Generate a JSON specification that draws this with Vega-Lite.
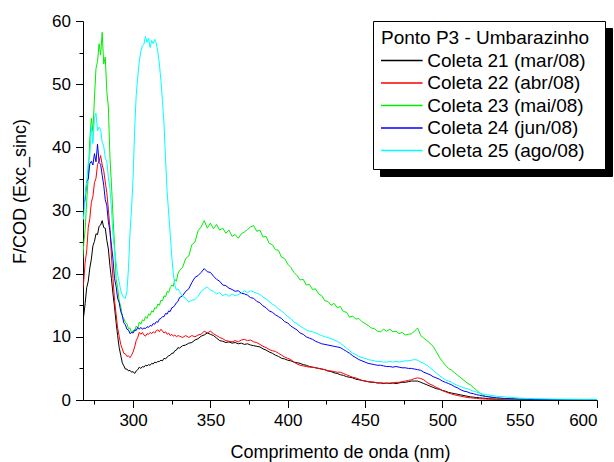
{
"$schema": "https://vega.github.io/schema/vega-lite/v6.json",
"width": 514, "height": 379,
"autosize": {"type": "none"},
"padding": {"left": 83, "top": 21, "right": 17, "bottom": 62},
"background": "white",
"data": {"values": [
{"w":267,"a":11,"b":17,"c":21,"d":33,"e":30},
{"w":268,"a":13.2,"b":18.6,"c":24.5,"d":30.5,"e":28.6},
{"w":269,"a":15.3,"b":21.8,"c":27,"d":31.8,"e":32.3},
{"w":270,"a":17.8,"b":23.6,"c":31.5,"d":34.6,"e":34.5},
{"w":271,"a":18.8,"b":27.3,"c":35.4,"d":35,"e":37.6},
{"w":272,"a":20.9,"b":28.7,"c":41.3,"d":37.4,"e":38.6},
{"w":273,"a":22.3,"b":31.3,"c":44.6,"d":37.8,"e":43.3},
{"w":274,"a":24.4,"b":32.2,"c":42.5,"d":37.2,"e":40.6},
{"w":275,"a":25.1,"b":34.4,"c":47.8,"d":39,"e":44.6},
{"w":276,"a":26.3,"b":35.1,"c":52.5,"d":37.7,"e":45.4},
{"w":277,"a":26.2,"b":37.3,"c":53.6,"d":40.5,"e":42.6},
{"w":278,"a":27.5,"b":37.8,"c":56.4,"d":37.6,"e":43.2},
{"w":279,"a":27.7,"b":38.7,"c":54.6,"d":37.3,"e":42.8},
{"w":280,"a":28.4,"b":37.2,"c":58.2,"d":35.6,"e":40.8},
{"w":281,"a":27.3,"b":36.3,"c":53.2,"d":34,"e":40.2},
{"w":282,"a":27.2,"b":34.5,"c":54.3,"d":31.7,"e":38.3},
{"w":283,"a":25.3,"b":32.8,"c":48.8,"d":30.8,"e":37.8},
{"w":284,"a":23.9,"b":30.2,"c":46.4,"d":28.2,"e":35.2},
{"w":285,"a":21.3,"b":27.3,"c":38.6,"d":26.8,"e":33.5},
{"w":286,"a":19.2,"b":22.8,"c":34.2,"d":24.5,"e":30.2},
{"w":287,"a":16.8,"b":19.2,"c":29.1,"d":22.3,"e":26.1},
{"w":288,"a":14.7,"b":15.8,"c":24.4,"d":19.2,"e":23.7},
{"w":289,"a":12.3,"b":13.6,"c":19.2,"d":18,"e":21.9},
{"w":290,"a":10.2,"b":11.4,"c":17.8,"d":16.1,"e":19.8},
{"w":291,"a":8.3,"b":10.1,"c":15.7,"d":15.4,"e":18.7},
{"w":292,"a":7.1,"b":8.8,"c":14.8,"d":14,"e":17.3},
{"w":293,"a":5.9,"b":8.1,"c":13.3,"d":13.4,"e":16.6},
{"w":294,"a":5.4,"b":7.4,"c":12.9,"d":12.2,"e":16.2},
{"w":295,"a":4.9,"b":7.3,"c":12.3,"d":11.9,"e":16.1},
{"w":296,"a":4.9,"b":6.9,"c":12.1,"d":11.2,"e":17.2},
{"w":297,"a":4.6,"b":7.0,"c":11.3,"d":11.1,"e":20.8},
{"w":298,"a":4.7,"b":6.7,"c":11.4,"d":10.5,"e":26.5},
{"w":299,"a":4.4,"b":7.1,"c":10.6,"d":10.7,"e":30.3},
{"w":300,"a":4.5,"b":7.6,"c":11.0,"d":10.6,"e":35.2},
{"w":301,"a":4.2,"b":8.4,"c":10.9,"d":11.1,"e":42.8},
{"w":302,"a":4.6,"b":9.4,"c":11.7,"d":11.0,"e":48.2},
{"w":303,"a":4.8,"b":9.9,"c":11.4,"d":11.5,"e":51.1},
{"w":304,"a":5.2,"b":10.7,"c":12.3,"d":11.2,"e":53.6},
{"w":305,"a":5.0,"b":10.4,"c":12.0,"d":11.5,"e":55.2},
{"w":306,"a":5.3,"b":10.7,"c":12.7,"d":11.2,"e":56.1},
{"w":307,"a":5.2,"b":10.3,"c":12.5,"d":11.4,"e":56.3},
{"w":308,"a":5.5,"b":10.1,"c":13.2,"d":11.3,"e":57.6},
{"w":309,"a":5.4,"b":10.5,"c":12.9,"d":11.6,"e":56.6},
{"w":310,"a":5.6,"b":10.4,"c":13.6,"d":11.5,"e":57.3},
{"w":311,"a":5.5,"b":10.7,"c":13.4,"d":11.8,"e":55.8},
{"w":312,"a":5.8,"b":10.5,"c":14.1,"d":11.7,"e":56.9},
{"w":313,"a":5.7,"b":10.8,"c":13.9,"d":12.1,"e":56.4},
{"w":314,"a":6.0,"b":10.6,"c":14.6,"d":12.0,"e":57.1},
{"w":315,"a":5.9,"b":11.0,"c":14.5,"d":12.4,"e":56.5},
{"w":316,"a":6.1,"b":11.1,"c":15.2,"d":12.3,"e":55.1},
{"w":317,"a":6.1,"b":10.8,"c":15.0,"d":12.8,"e":53.2},
{"w":318,"a":6.3,"b":11.2,"c":15.8,"d":12.9,"e":50.6},
{"w":319,"a":6.2,"b":10.9,"c":15.7,"d":13.2,"e":47.4},
{"w":320,"a":6.6,"b":10.6,"c":16.5,"d":13.2,"e":43.6},
{"w":321,"a":6.5,"b":10.8,"c":16.3,"d":13.7,"e":38.1},
{"w":322,"a":6.8,"b":10.4,"c":17.2,"d":13.6,"e":33.0},
{"w":323,"a":7.0,"b":10.6,"c":17.0,"d":14.1,"e":29.6},
{"w":324,"a":7.1,"b":10.2,"c":17.8,"d":14.0,"e":26.4},
{"w":325,"a":7.4,"b":10.4,"c":18.2,"d":14.6,"e":22.7},
{"w":326,"a":7.4,"b":10.1,"c":18.0,"d":14.7,"e":20.1},
{"w":327,"a":7.8,"b":10.3,"c":19.1,"d":15.0,"e":18.2},
{"w":328,"a":7.9,"b":10.0,"c":18.8,"d":15.4,"e":17.4},
{"w":329,"a":8.3,"b":10.2,"c":20.0,"d":15.6,"e":17.6},
{"w":330,"a":8.2,"b":10.1,"c":20.5,"d":16.2,"e":17.2},
{"w":332,"a":8.6,"b":9.9,"c":21.0,"d":16.5,"e":16.4},
{"w":334,"a":8.7,"b":10.2,"c":22.4,"d":17.2,"e":16.1},
{"w":336,"a":9.0,"b":9.9,"c":22.8,"d":17.6,"e":15.5},
{"w":338,"a":9.1,"b":10.2,"c":24.6,"d":18.6,"e":15.8},
{"w":340,"a":9.5,"b":10.0,"c":25.0,"d":19.4,"e":15.9},
{"w":342,"a":9.7,"b":10.3,"c":26.8,"d":19.7,"e":16.4},
{"w":344,"a":10.1,"b":10.4,"c":27.4,"d":20.2,"e":17.2},
{"w":346,"a":10.3,"b":10.9,"c":28.4,"d":20.8,"e":17.6},
{"w":348,"a":10.6,"b":10.6,"c":27.2,"d":20.3,"e":17.9},
{"w":350,"a":10.4,"b":10.9,"c":28.0,"d":20.2,"e":17.4},
{"w":352,"a":10.2,"b":10.5,"c":27.1,"d":19.6,"e":17.2},
{"w":354,"a":9.8,"b":10.2,"c":27.8,"d":19.1,"e":16.8},
{"w":356,"a":9.4,"b":9.9,"c":26.9,"d":18.8,"e":17.0},
{"w":358,"a":9.3,"b":9.7,"c":27.2,"d":18.2,"e":16.5},
{"w":360,"a":9.1,"b":9.4,"c":26.4,"d":18.1,"e":16.8},
{"w":362,"a":9.2,"b":9.3,"c":26.9,"d":17.7,"e":16.4},
{"w":364,"a":9.0,"b":9.2,"c":25.9,"d":17.5,"e":16.8},
{"w":366,"a":9.1,"b":9.4,"c":26.2,"d":17.2,"e":16.5},
{"w":368,"a":8.9,"b":9.2,"c":25.6,"d":17.3,"e":16.7},
{"w":370,"a":9.0,"b":9.5,"c":26.3,"d":16.9,"e":16.9},
{"w":372,"a":8.8,"b":9.6,"c":26.6,"d":16.8,"e":17.3},
{"w":374,"a":8.9,"b":9.4,"c":27.0,"d":16.6,"e":17.0},
{"w":376,"a":8.7,"b":9.5,"c":27.4,"d":16.2,"e":17.3},
{"w":378,"a":8.6,"b":9.2,"c":27.6,"d":16.1,"e":17.1},
{"w":380,"a":8.5,"b":9.1,"c":26.7,"d":15.6,"e":16.9},
{"w":382,"a":8.4,"b":8.8,"c":26.9,"d":15.4,"e":16.7},
{"w":384,"a":8.1,"b":8.5,"c":25.8,"d":14.9,"e":16.3},
{"w":386,"a":7.9,"b":8.3,"c":25.9,"d":14.6,"e":16.0},
{"w":388,"a":7.6,"b":8.0,"c":24.8,"d":14.1,"e":15.6},
{"w":390,"a":7.4,"b":7.8,"c":24.6,"d":13.9,"e":15.2},
{"w":392,"a":7.1,"b":7.7,"c":23.8,"d":13.5,"e":14.9},
{"w":394,"a":6.9,"b":7.4,"c":23.7,"d":13.2,"e":14.4},
{"w":396,"a":6.6,"b":7.1,"c":22.6,"d":12.9,"e":14.1},
{"w":398,"a":6.5,"b":6.8,"c":22.4,"d":12.4,"e":13.7},
{"w":400,"a":6.3,"b":6.6,"c":21.5,"d":12.2,"e":13.2},
{"w":402,"a":6.2,"b":6.4,"c":21.0,"d":11.7,"e":12.9},
{"w":404,"a":6.0,"b":6.0,"c":20.2,"d":11.4,"e":12.3},
{"w":406,"a":5.9,"b":5.7,"c":19.7,"d":11.1,"e":12.1},
{"w":408,"a":5.8,"b":5.5,"c":19.0,"d":10.6,"e":11.7},
{"w":410,"a":5.6,"b":5.4,"c":19.1,"d":10.4,"e":11.4},
{"w":412,"a":5.5,"b":5.3,"c":18.2,"d":10.0,"e":11.1},
{"w":414,"a":5.3,"b":5.2,"c":18.3,"d":9.8,"e":10.9},
{"w":416,"a":5.2,"b":5.2,"c":17.5,"d":9.6,"e":10.8},
{"w":418,"a":5.1,"b":5.1,"c":17.6,"d":9.3,"e":10.6},
{"w":420,"a":5.0,"b":5.0,"c":16.8,"d":9.1,"e":10.4},
{"w":422,"a":4.9,"b":4.9,"c":16.5,"d":8.9,"e":10.2},
{"w":424,"a":4.8,"b":4.8,"c":15.7,"d":8.8,"e":10.0},
{"w":426,"a":4.6,"b":4.6,"c":15.6,"d":8.7,"e":9.9},
{"w":428,"a":4.5,"b":4.6,"c":15.0,"d":8.6,"e":9.7},
{"w":430,"a":4.3,"b":4.5,"c":15.3,"d":8.5,"e":9.5},
{"w":432,"a":4.2,"b":4.4,"c":14.6,"d":8.4,"e":9.3},
{"w":434,"a":4.0,"b":4.4,"c":14.8,"d":8.3,"e":9.0},
{"w":436,"a":3.9,"b":4.2,"c":14.0,"d":8.0,"e":8.6},
{"w":438,"a":3.7,"b":4.0,"c":13.9,"d":7.7,"e":8.2},
{"w":440,"a":3.6,"b":3.8,"c":13.1,"d":7.4,"e":7.8},
{"w":442,"a":3.5,"b":3.6,"c":13.3,"d":7.0,"e":7.4},
{"w":444,"a":3.3,"b":3.5,"c":12.8,"d":6.7,"e":7.2},
{"w":446,"a":3.2,"b":3.3,"c":12.9,"d":6.4,"e":6.9},
{"w":448,"a":3.1,"b":3.1,"c":12.4,"d":6.2,"e":6.7},
{"w":450,"a":3.0,"b":3.0,"c":12.1,"d":6.0,"e":6.6},
{"w":452,"a":2.9,"b":2.9,"c":11.8,"d":5.8,"e":6.4},
{"w":454,"a":2.8,"b":2.9,"c":11.4,"d":5.7,"e":6.3},
{"w":456,"a":2.8,"b":2.8,"c":11.3,"d":5.6,"e":6.2},
{"w":458,"a":2.7,"b":2.7,"c":10.9,"d":5.5,"e":6.1},
{"w":460,"a":2.7,"b":2.7,"c":10.8,"d":5.5,"e":6.1},
{"w":462,"a":2.6,"b":2.7,"c":11.2,"d":5.4,"e":6.0},
{"w":464,"a":2.7,"b":2.6,"c":10.9,"d":5.3,"e":6.0},
{"w":466,"a":2.6,"b":2.7,"c":11.2,"d":5.3,"e":6.1},
{"w":468,"a":2.7,"b":2.7,"c":10.8,"d":5.2,"e":6.0},
{"w":470,"a":2.6,"b":2.8,"c":10.9,"d":5.3,"e":6.1},
{"w":472,"a":2.7,"b":2.8,"c":10.5,"d":5.2,"e":6.0},
{"w":474,"a":2.8,"b":2.9,"c":10.7,"d":5.1,"e":6.1},
{"w":476,"a":2.8,"b":3.0,"c":10.3,"d":5.1,"e":6.2},
{"w":478,"a":2.9,"b":3.1,"c":10.4,"d":5.0,"e":6.2},
{"w":480,"a":3.0,"b":3.2,"c":10.5,"d":5.0,"e":6.3},
{"w":482,"a":3.0,"b":3.4,"c":10.9,"d":4.9,"e":6.4},
{"w":484,"a":3.0,"b":3.5,"c":11.4,"d":4.8,"e":6.3},
{"w":486,"a":2.8,"b":3.4,"c":10.2,"d":4.7,"e":6.0},
{"w":488,"a":2.6,"b":3.2,"c":9.8,"d":4.4,"e":5.8},
{"w":490,"a":2.4,"b":2.8,"c":9.4,"d":4.2,"e":5.5},
{"w":492,"a":2.2,"b":2.5,"c":9.0,"d":4.0,"e":5.1},
{"w":494,"a":2.0,"b":2.3,"c":8.5,"d":3.7,"e":4.7},
{"w":496,"a":1.8,"b":2.0,"c":7.7,"d":3.5,"e":4.3},
{"w":498,"a":1.7,"b":1.8,"c":6.8,"d":3.3,"e":3.9},
{"w":500,"a":1.5,"b":1.5,"c":6.1,"d":3.0,"e":3.5},
{"w":502,"a":1.4,"b":1.3,"c":5.5,"d":2.8,"e":3.2},
{"w":504,"a":1.2,"b":1.1,"c":5.0,"d":2.6,"e":3.0},
{"w":506,"a":1.1,"b":0.95,"c":4.7,"d":2.4,"e":2.8},
{"w":508,"a":1.0,"b":0.8,"c":4.3,"d":2.1,"e":2.5},
{"w":510,"a":0.9,"b":0.7,"c":3.9,"d":1.9,"e":2.3},
{"w":512,"a":0.8,"b":0.6,"c":3.5,"d":1.6,"e":2.1},
{"w":514,"a":0.7,"b":0.5,"c":3.1,"d":1.4,"e":1.9},
{"w":516,"a":0.6,"b":0.4,"c":2.7,"d":1.3,"e":1.8},
{"w":518,"a":0.5,"b":0.35,"c":2.4,"d":1.1,"e":1.6},
{"w":520,"a":0.45,"b":0.3,"c":2.0,"d":1.0,"e":1.4},
{"w":522,"a":0.4,"b":0.25,"c":1.6,"d":0.85,"e":1.25},
{"w":524,"a":0.35,"b":0.2,"c":1.1,"d":0.75,"e":1.1},
{"w":526,"a":0.3,"b":0.18,"c":0.8,"d":0.65,"e":0.95},
{"w":528,"a":0.25,"b":0.15,"c":0.6,"d":0.55,"e":0.85},
{"w":530,"a":0.2,"b":0.13,"c":0.5,"d":0.5,"e":0.8},
{"w":535,"a":0.15,"b":0.1,"c":0.3,"d":0.35,"e":0.6},
{"w":540,"a":0.12,"b":0.08,"c":0.2,"d":0.25,"e":0.5},
{"w":545,"a":0.1,"b":0.07,"c":0.15,"d":0.2,"e":0.4},
{"w":550,"a":0.08,"b":0.06,"c":0.12,"d":0.15,"e":0.3},
{"w":555,"a":0.07,"b":0.05,"c":0.1,"d":0.12,"e":0.25},
{"w":560,"a":0.06,"b":0.05,"c":0.08,"d":0.1,"e":0.2},
{"w":570,"a":0.05,"b":0.04,"c":0.06,"d":0.08,"e":0.15},
{"w":580,"a":0.05,"b":0.04,"c":0.05,"d":0.07,"e":0.12},
{"w":590,"a":0.04,"b":0.03,"c":0.05,"d":0.06,"e":0.1},
{"w":600,"a":0.04,"b":0.03,"c":0.04,"d":0.05,"e":0.1}
]},
"transform": [
  {"fold": ["a","b","c","d","e"], "as": ["k","v"]},
  {"lookup": "k", "from": {"data": {"values": [
    {"k":"a","serie":"Coleta 21 (mar/08)","sombra":"Coleta 21 (mar/08)"},
    {"k":"b","serie":"Coleta 22 (abr/08)","sombra":"Coleta 22 (abr/08)"},
    {"k":"c","serie":"Coleta 23 (mai/08)","sombra":"Coleta 23 (mai/08)"},
    {"k":"d","serie":"Coleta 24 (jun/08)","sombra":"Coleta 24 (jun/08)"},
    {"k":"e","serie":"Coleta 25 (ago/08)","sombra":"Coleta 25 (ago/08)"}
  ]}, "key": "k", "fields": ["serie","sombra"]}}
],
"layer": [
  {
    "mark": {"type": "line", "clip": true, "strokeWidth": 1},
    "encoding": {
      "x": {"field": "w", "type": "quantitative",
        "scale": {"domain": [267.6, 600], "nice": false, "zero": false},
        "axis": {"title": "Comprimento de onda (nm)", "orient": "bottom", "values": [300,350,400,450,500,550,600],
          "tickSize": 7.5, "labelPadding": 5, "titleBaseline": "alphabetic", "titleY": 57}},
      "y": {"field": "v", "type": "quantitative",
        "scale": {"domain": [0, 60], "nice": false},
        "axis": {"title": "F/COD (Exc_sinc)", "orient": "left", "values": [0,10,20,30,40,50,60],
          "tickSize": 7.5, "labelPadding": 5, "titleBaseline": "alphabetic", "titleX": -58, "titleY": 170, "titleAngle": -90}},
      "color": {"field": "serie", "type": "nominal",
        "scale": {"domain": ["Coleta 21 (mar/08)","Coleta 22 (abr/08)","Coleta 23 (mai/08)","Coleta 24 (jun/08)","Coleta 25 (ago/08)"],
                  "range": ["#000000","#ff0000","#00ee00","#0000ff","#00ffff"]},
        "legend": {"title": "Ponto P3 - Umbarazinho", "orient": "none", "legendX": 290, "legendY": 0, "zindex": 2,
          "symbolType": "M-4,0H4M36.9,0h0.01", "fillColor": "white", "strokeColor": "black"}},
      "opacity": {"field": "sombra", "type": "nominal",
        "scale": {"range": [1,1,1,1,1]},
        "legend": {"title": " ", "orient": "none", "legendX": 297, "legendY": 7, "zindex": 1,
          "labelExpr": "''",
          "symbolType": "M-4,0H4M36.9,0h0.01", "fillColor": "black", "strokeColor": "black",
          "labelColor": "black", "titleColor": "black", "symbolStrokeColor": "black", "symbolFillColor": "black"}}
    }
  },
  {
    "mark": {"type": "line", "opacity": 0, "clip": true},
    "encoding": {
      "x": {"field": "w", "type": "quantitative",
        "axis": {"title": null, "orient": "bottom", "values": [275,325,375,425,475,525,575], "tickSize": 4, "labels": false, "domain": false}},
      "y": {"field": "v", "type": "quantitative",
        "axis": {"title": null, "orient": "left", "values": [5,15,25,35,45,55], "tickSize": 4, "labels": false, "domain": false}}
    }
  }
],
"resolve": {"axis": {"x": "independent", "y": "independent"}},
"config": {
  "view": {"stroke": null},
  "axis": {"grid": false, "domainColor": "black", "tickColor": "black", "labelColor": "black", "titleColor": "black",
    "labelFont": "Liberation Sans", "titleFont": "Liberation Sans", "labelFontSize": 17, "titleFontSize": 18,
    "titleFontWeight": "normal", "domainWidth": 1, "tickWidth": 1},
  "legend": {"titleFont": "Liberation Sans", "titleFontSize": 19, "titleFontWeight": "normal", "titleColor": "black",
    "labelFont": "Liberation Sans", "labelFontSize": 19, "labelColor": "black",
    "symbolSize": 108, "symbolStrokeWidth": 1.3, "symbolOffset": 11.3, "labelOffset": 16,
    "rowPadding": 2.5, "titlePadding": 3, "padding": 8, "titleLimit": 400, "labelLimit": 400}
}
}
